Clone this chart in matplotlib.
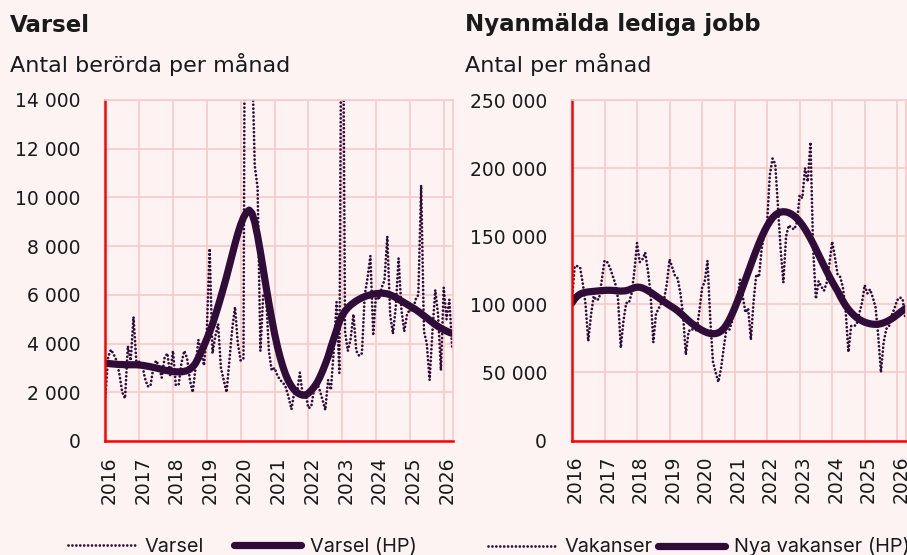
import matplotlib
matplotlib.use("Agg")
import matplotlib.pyplot as plt
import matplotlib.transforms as mtransforms
from matplotlib.ticker import FuncFormatter, MultipleLocator
import numpy as np

# monthly data, Jan 2016 - Apr 2026
years = [str(y) for y in range(2016, 2027)]

varsel = [
    1800, 3450, 3750, 3550, 3300, 2750, 2000, 1750, 3900, 3300, 5100, 3250,
    3250, 3200, 2600, 2250, 2250, 3000, 3300, 3100, 2600, 3400, 3600, 2700,
    3700, 2300, 2300, 3200, 3700, 3400, 2500, 2000, 3000, 4150, 3700, 3100,
    4500, 7900, 3600, 4300, 4800, 3000, 2500, 2000, 3300, 4600, 5500, 4000,
    3300, 3400, 36000, 26000, 16000, 11300, 10400, 3700, 6000, 6000, 3700, 2900,
    3000, 2700, 2500, 2400, 2200, 1800, 1300, 2000, 2000, 2800, 1900, 2000,
    1350, 1400, 2100, 2400, 2100, 1700, 1270, 2500, 2100, 3700, 5700, 2800,
    25000, 4500, 3700, 4200, 5200, 3700, 3500, 3600, 6000, 6700, 7600, 4400,
    6000, 5800, 6300, 6600, 8400, 5200, 4400, 5500, 7500, 5400, 4500, 5200,
    5400, 5300, 5800, 6000, 10500, 4500, 4000, 2500, 4500, 6200, 5200, 2900,
    6300, 5000, 5800, 3800,
]

varsel_hp = [
    3190, 3180, 3170, 3160, 3150, 3140, 3140, 3130, 3130, 3130, 3130, 3130,
    3120, 3110, 3090, 3070, 3050, 3020, 3000, 2970, 2940, 2910, 2890, 2870,
    2850, 2840, 2840, 2840, 2860, 2890, 2950, 3050, 3190, 3420, 3660, 3920,
    4190, 4480, 4790, 5150, 5530, 5920, 6330, 6750, 7200, 7650, 8100, 8520,
    8880, 9170, 9380, 9480, 9350, 8980, 8420, 7760, 7050, 6340, 5660, 5020,
    4420, 3890, 3430, 3040, 2710, 2450, 2250, 2100, 1990, 1920, 1880, 1880,
    1960, 2070, 2210, 2380, 2600, 2860, 3150, 3460, 3850, 4200, 4550, 4900,
    5150, 5330, 5470, 5580, 5670, 5750, 5820, 5880, 5930, 5970, 6000, 6030,
    6050, 6060, 6070, 6060, 6040, 6000, 5950, 5890, 5820, 5750, 5680, 5610,
    5540, 5470, 5400, 5320, 5230, 5140, 5050, 4960, 4870, 4780, 4700, 4630,
    4570, 4510, 4460, 4420,
]

vakanser = [
    104000, 128000, 128000, 127000, 115000, 100000, 73000, 92000, 106000, 103000, 104000, 118000,
    132000, 131000, 127000, 121000, 115000, 104000, 68000, 88000, 101000, 101000, 108000, 124000,
    145000, 131000, 133000, 138000, 125000, 108000, 72000, 93000, 97000, 101000, 104000, 115000,
    133000, 127000, 121000, 119000, 108000, 92000, 63000, 80000, 82000, 81000, 81000, 95000,
    112000, 117000, 132000, 90000, 58000, 50000, 43000, 53000, 68000, 82000, 81000, 87000,
    95000, 102000, 118000, 106000, 94000, 97000, 74000, 102000, 122000, 120000, 141000, 152000,
    160000, 195000, 207000, 203000, 172000, 140000, 116000, 150000, 158000, 156000, 155000, 160000,
    180000, 178000, 200000, 190000, 219000, 140000, 104000, 117000, 113000, 110000, 116000, 130000,
    146000, 135000, 122000, 120000, 112000, 95000, 65000, 84000, 84000, 85000, 93000, 101000,
    114000, 108000, 111000, 105000, 98000, 77000, 50000, 72000, 82000, 84000, 92000, 97000,
    103000, 105000, 104000, 90000,
]

vakanser_hp = [
    101000, 104000, 106000, 107500, 108300, 108800, 109100, 109300, 109500, 109700, 109900, 110000,
    110200, 110300, 110300, 110200, 110000, 109800, 109700, 109800, 110000, 110600, 111400, 112200,
    112600, 112500, 112000, 111100, 110000, 108800, 107500, 106100, 104700, 103300, 101900, 100500,
    99200, 98000, 96700, 95200, 93500, 91700, 89800, 88000, 86300, 84800, 83400, 82100,
    80900, 79900, 79100, 78600, 78400, 78500, 79100, 80300, 82200, 84900, 88400, 92500,
    97100, 102000, 107200, 112600, 118100, 123600, 129100, 134500, 139700, 144700, 149400, 153700,
    157500, 160800, 163500, 165500, 166900, 167700, 168000, 167800, 167200, 166200, 164800, 163000,
    160800, 158200, 155200, 151900, 148300, 144500, 140500, 136400, 132300, 128200, 124200, 120300,
    116600, 113100, 109800, 105800, 102300, 99000, 96300, 94000, 92000, 90300, 88900, 87800,
    86900, 86200, 85700, 85400, 85300, 85400, 85800, 86400, 87200, 88200, 89400, 90800,
    92300, 93900, 95400, 96900,
]

months = np.arange(len(varsel))

bg = "#FDF3F3"
dark = "#300D38"
grid_col = "#F8CACA"
red = "#FF0000"
txt = "#1A1A1A"

plt.rcParams["font.family"] = ["DejaVu Sans"]

W, H = 907, 555
fig = plt.figure(figsize=(W / 100, H / 100), dpi=100, facecolor=bg)
ax1 = fig.add_axes([105.3 / W, (H - 441) / H, 348 / W, 341 / H])
ax2 = fig.add_axes([572 / W, (H - 440.5) / H, 334.4 / W, 340.5 / H])


def space_thousands(v, pos):
    return f"{int(v):,}".replace(",", " ")


def style(ax, ymax, ystep):
    ax.set_facecolor(bg)
    ax.set_xlim(0, 123.4)
    ax.set_ylim(0, ymax)
    ax.set_xticks(np.arange(0, 121, 12))
    ax.set_xticklabels(years, rotation=90)
    ax.yaxis.set_major_locator(MultipleLocator(ystep))
    ax.yaxis.set_major_formatter(FuncFormatter(space_thousands))
    ax.grid(True, color=grid_col, lw=1.2)
    ax.set_axisbelow(True)
    for s in ["top", "right"]:
        ax.spines[s].set_color(grid_col)
        ax.spines[s].set_linewidth(1.2)
    for s in ["left", "bottom"]:
        ax.spines[s].set_color(red)
        ax.spines[s].set_linewidth(1.8)
    ax.tick_params(length=0, labelsize=13.5, colors=txt)
    ax.tick_params(axis="y", pad=18)
    ax.tick_params(axis="x", pad=11)
    shift = mtransforms.ScaledTranslation(3.5 / 100, 0, fig.dpi_scale_trans)
    for lab in ax.get_xticklabels():
        lab.set_transform(lab.get_transform() + shift)


style(ax1, 14000, 2000)
style(ax2, 250000, 50000)

dots = dict(color=dark, lw=2.0, linestyle=(0, (0.01, 1.4)), dash_capstyle="round")
thick = dict(color=dark, lw=5.2, solid_capstyle="round")

ax1.plot(months, varsel, label="Varsel", **dots)
ax1.plot(months, varsel_hp, label="Varsel (HP)", **thick)
ax2.plot(months, vakanser, label="Vakanser", **dots)
ax2.plot(months, vakanser_hp, label="Nya vakanser (HP)", **thick)

leg_kw = dict(ncol=2, frameon=False, handlelength=3.4, handletextpad=0.45,
              borderpad=0, borderaxespad=0, labelcolor=txt, loc="center left",
              prop={"family": ["Inter", "DejaVu Sans"], "size": 14.3})
ax1.legend(bbox_to_anchor=((68 - 105.3) / 348, (441 - 547) / 341),
           columnspacing=1.5, **leg_kw)
ax2.legend(bbox_to_anchor=((488 - 572) / 334.4, (440.5 - 547) / 340.5),
           columnspacing=0.25, **leg_kw)

fig.text(10 / W, 1 - 25 / H, "Varsel", fontsize=16.5, fontweight="bold", color=txt, va="center")
fig.text(10 / W, 1 - 65 / H, "Antal berörda per månad", fontsize=16, color=txt, va="center")
fig.text(465 / W, 1 - 25 / H, "Nyanmälda lediga jobb", fontsize=16.5, fontweight="bold", color=txt, va="center")
fig.text(465 / W, 1 - 65 / H, "Antal per månad", fontsize=16, color=txt, va="center")

fig.savefig("out.png", dpi=100, facecolor=bg)
